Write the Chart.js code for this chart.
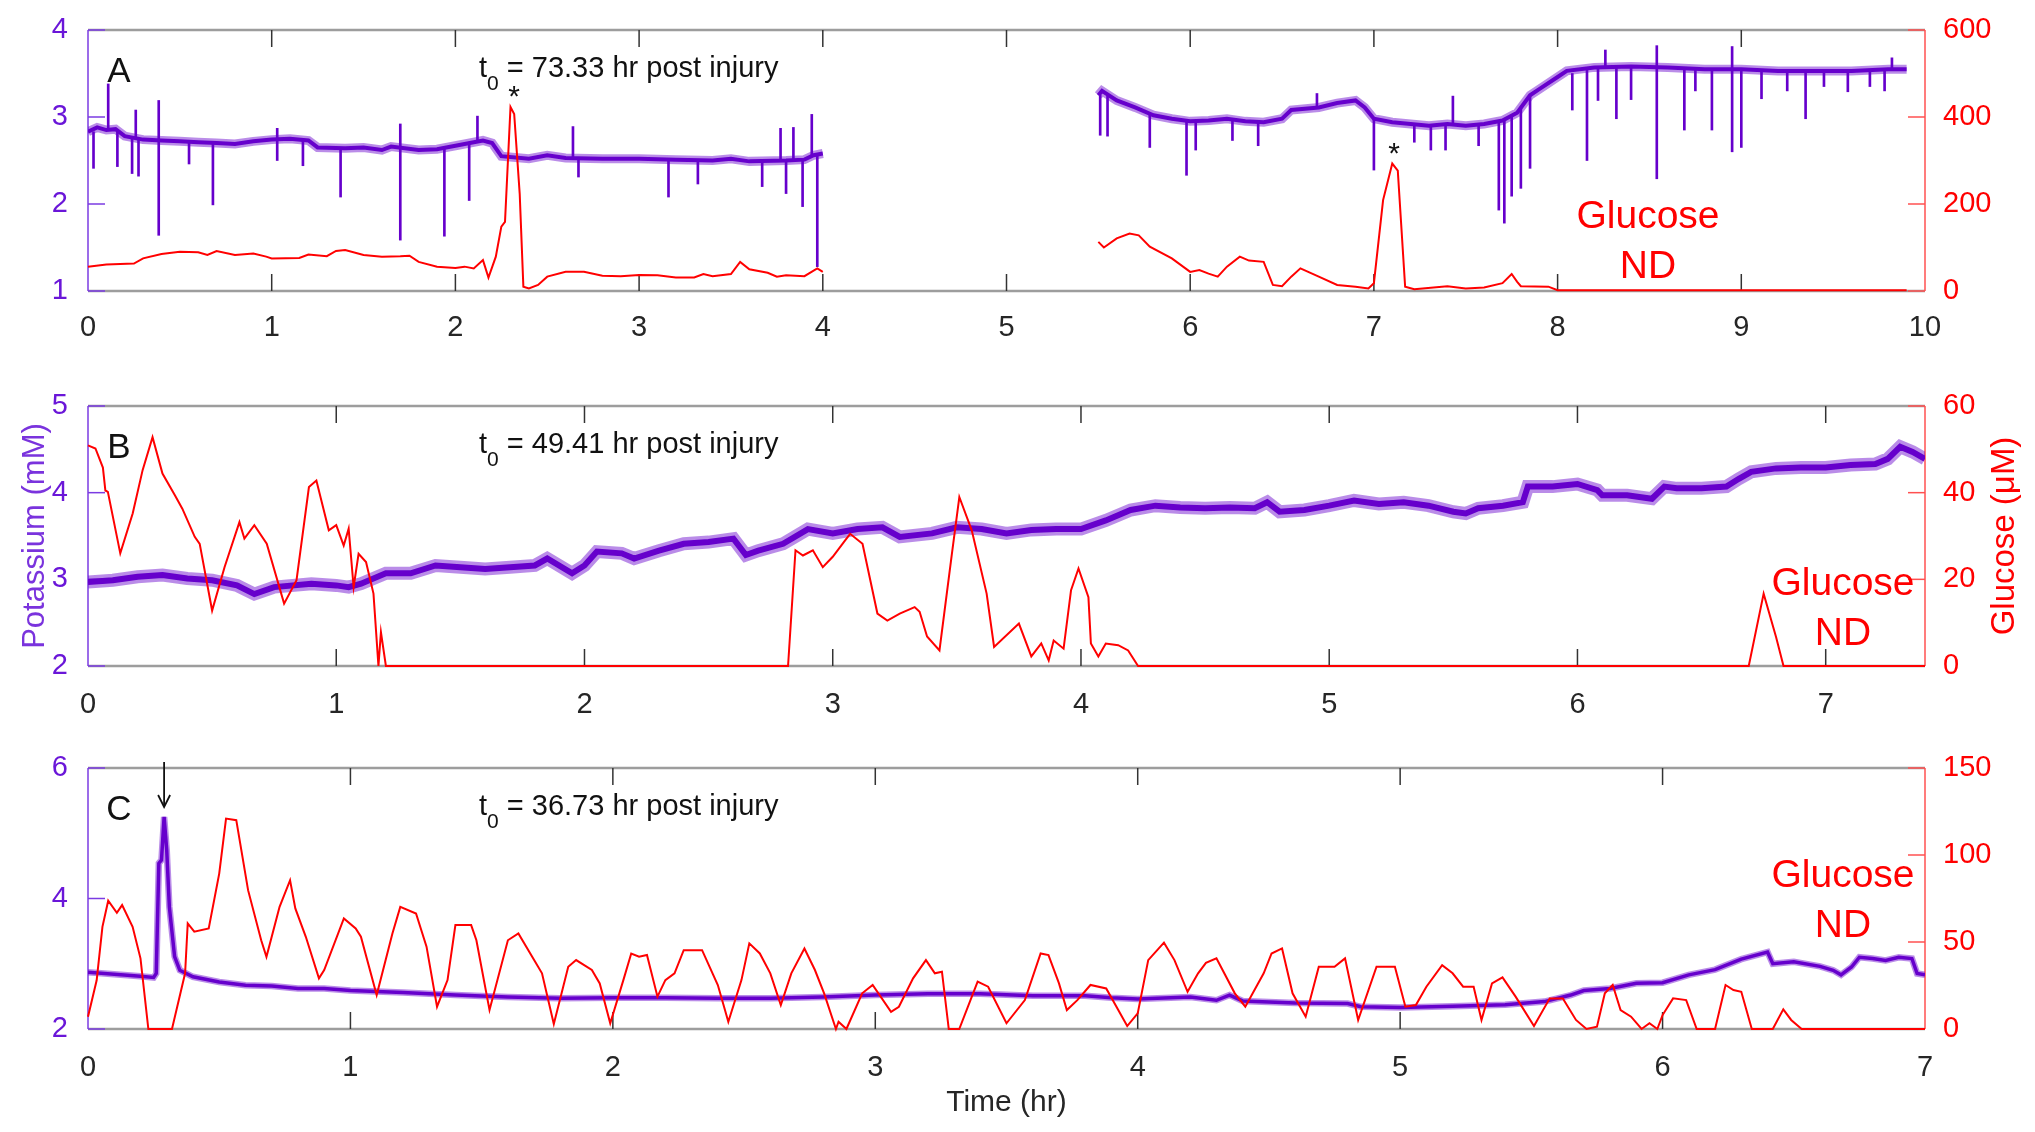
<!DOCTYPE html>
<html>
<head>
<meta charset="utf-8">
<title>Potassium and glucose</title>
<script src="https://cdn.jsdelivr.net/npm/chart.js@4.4.1/dist/chart.umd.min.js"></script>
<style>
  html, body { margin: 0; padding: 0; background: #ffffff; }
  body { position: relative; width: 2035px; height: 1132px; overflow: hidden; }
  canvas { position: absolute; left: 0; }
</style>
</head>
<body>
<canvas id="panelA" width="2035" height="340" style="top:0px;width:2035px;height:340px"></canvas>
<canvas id="panelB" width="2035" height="360" style="top:360px;width:2035px;height:360px"></canvas>
<canvas id="panelC" width="2035" height="412" style="top:720px;width:2035px;height:412px"></canvas>
<script>
const PURPLE = "#6600cc";
const PURPLE_FUZZ = "rgba(102, 0, 204, 0.45)";
const RED = "#ff0000";
const FONT = '"Liberation Sans", Arial, Helvetica, sans-serif';

// ---------- panel A (t0 = 73.33 hr) ----------
const aKTime1 = [0, 0.05, 0.1, 0.15, 0.2, 0.3, 0.4, 0.5, 0.6, 0.7, 0.8, 0.9, 1.0, 1.1, 1.2, 1.25, 1.4, 1.5, 1.6, 1.65, 1.8, 1.9, 2.0, 2.1, 2.15, 2.2, 2.25, 2.4, 2.5, 2.6, 2.8, 3.0, 3.2, 3.4, 3.5, 3.6, 3.8, 3.9, 3.95, 4.0];
const aKVal1 = [2.83, 2.88, 2.85, 2.86, 2.78, 2.74, 2.73, 2.72, 2.71, 2.70, 2.69, 2.72, 2.74, 2.75, 2.73, 2.65, 2.64, 2.65, 2.62, 2.66, 2.62, 2.63, 2.67, 2.71, 2.73, 2.70, 2.55, 2.52, 2.56, 2.53, 2.52, 2.52, 2.51, 2.50, 2.52, 2.49, 2.50, 2.51, 2.56, 2.58];
const aKTime2 = [5.5, 5.52, 5.6, 5.7, 5.8, 5.9, 6.0, 6.1, 6.2, 6.3, 6.4, 6.5, 6.55, 6.7, 6.8, 6.9, 6.95, 7.0, 7.1, 7.2, 7.3, 7.4, 7.5, 7.6, 7.7, 7.78, 7.85, 7.9, 8.0, 8.05, 8.2, 8.4, 8.6, 8.8, 9.0, 9.2, 9.4, 9.6, 9.8, 9.9];
const aKVal2 = [3.25, 3.30, 3.19, 3.11, 3.02, 2.98, 2.95, 2.96, 2.98, 2.95, 2.94, 2.98, 3.08, 3.11, 3.16, 3.19, 3.11, 2.98, 2.94, 2.92, 2.90, 2.92, 2.90, 2.92, 2.96, 3.05, 3.25, 3.32, 3.46, 3.53, 3.57, 3.58, 3.57, 3.55, 3.55, 3.53, 3.53, 3.53, 3.55, 3.55];
// short artefact spikes of the potassium trace: time, low end, high end
const aSpikeTime = [0.03, 0.11, 0.16, 0.24, 0.26, 0.275, 0.385, 0.55, 0.68, 1.03, 1.17, 1.375, 1.70, 1.94, 2.075, 2.12, 2.64, 2.67, 3.16, 3.32, 3.67, 3.77, 3.80, 3.84, 3.89, 3.94, 3.97,
  5.51, 5.55, 5.78, 5.98, 6.03, 6.23, 6.37, 6.69, 7.0, 7.22, 7.31, 7.39, 7.43, 7.57, 7.68, 7.71, 7.75, 7.80, 7.85, 8.08, 8.16, 8.22, 8.26, 8.32, 8.4, 8.54, 8.69, 8.75, 8.84, 8.95, 9.0, 9.11, 9.25, 9.35, 9.45, 9.58, 9.7, 9.78, 9.82];
const aSpikeLow = [2.41, 2.85, 2.43, 2.35, 2.75, 2.32, 1.64, 2.46, 1.99, 2.50, 2.44, 2.08, 1.585, 1.63, 2.04, 2.72, 2.53, 2.31, 2.08, 2.23, 2.20, 2.50, 2.12, 2.50, 1.97, 2.55, 1.28,
  2.79, 2.78, 2.65, 2.33, 2.62, 2.73, 2.67, 3.11, 2.39, 2.71, 2.62, 2.62, 2.92, 2.67, 1.93, 1.78, 2.09, 2.18, 2.41, 3.08, 2.50, 3.19, 3.57, 2.98, 3.20, 2.29, 2.85, 3.30, 2.85, 2.60, 2.65, 3.21, 3.30, 2.98, 3.35, 3.29, 3.35, 3.30, 3.55];
const aSpikeHigh = [2.83, 3.38, 2.85, 2.76, 3.08, 2.74, 3.19, 2.72, 2.70, 2.87, 2.73, 2.64, 2.92, 2.64, 2.70, 3.01, 2.89, 2.53, 2.51, 2.51, 2.50, 2.87, 2.50, 2.88, 2.51, 3.03, 2.56,
  3.25, 3.25, 3.02, 2.96, 2.95, 2.98, 2.94, 3.27, 2.98, 2.92, 2.90, 2.92, 3.24, 2.92, 2.96, 2.96, 3.00, 3.10, 3.25, 3.50, 3.56, 3.57, 3.77, 3.57, 3.58, 3.82, 3.56, 3.56, 3.55, 3.81, 3.55, 3.54, 3.53, 3.53, 3.53, 3.53, 3.54, 3.55, 3.68];
const aGluTime1 = [0, 0.1, 0.25, 0.3, 0.4, 0.5, 0.6, 0.65, 0.7, 0.8, 0.9, 0.97, 1.0, 1.15, 1.2, 1.3, 1.35, 1.4, 1.5, 1.6, 1.7, 1.75, 1.8, 1.9, 2.0, 2.05, 2.1, 2.15, 2.18, 2.22, 2.25, 2.27, 2.3, 2.32, 2.35, 2.37, 2.4, 2.45, 2.5, 2.6, 2.7, 2.8, 2.9, 3.0, 3.1, 3.2, 3.3, 3.35, 3.4, 3.5, 3.55, 3.6, 3.7, 3.75, 3.8, 3.9, 3.97, 4.0];
const aGluVal1 = [56, 61, 63, 75, 85, 90, 89, 83, 92, 83, 86, 79, 75, 76, 84, 80, 92, 94, 83, 79, 80, 81, 67, 56, 53, 56, 52, 71, 31, 79, 148, 159, 423, 407, 224, 10, 6, 14, 33, 44, 44, 35, 34, 37, 36, 31, 31, 39, 34, 39, 67, 50, 42, 33, 36, 34, 52, 44];
const aGluTime2 = [5.5, 5.53, 5.6, 5.67, 5.72, 5.78, 5.9, 6.0, 6.05, 6.1, 6.15, 6.2, 6.27, 6.32, 6.4, 6.45, 6.5, 6.55, 6.6, 6.7, 6.8, 6.9, 6.97, 7.0, 7.05, 7.1, 7.13, 7.17, 7.22, 7.4, 7.5, 7.6, 7.7, 7.75, 7.78, 7.8, 7.95, 8.0, 9.9];
const aGluVal2 = [113, 100, 121, 132, 128, 102, 75, 44, 48, 40, 33, 56, 79, 70, 67, 14, 11, 33, 52, 33, 14, 10, 6, 18, 209, 293, 277, 10, 4, 11, 6, 8, 18, 39, 21, 11, 10, 2, 2];
const aStarTime = [2.32, 7.11];
const aStarGlu = [423, 293];

// ---------- panel B (t0 = 49.41 hr) ----------
const bKTime = [0, 0.1, 0.2, 0.3, 0.4, 0.5, 0.6, 0.67, 0.75, 0.9, 1.0, 1.05, 1.1, 1.2, 1.3, 1.4, 1.5, 1.6, 1.7, 1.8, 1.85, 1.95, 2.0, 2.05, 2.15, 2.2, 2.3, 2.4, 2.5, 2.6, 2.65, 2.7, 2.8, 2.9, 3.0, 3.1, 3.2, 3.27, 3.4, 3.5, 3.6, 3.7, 3.8, 3.9, 4.0, 4.1, 4.2, 4.3, 4.4, 4.5, 4.6, 4.7, 4.75, 4.8, 4.9, 5.0, 5.1, 5.2, 5.3, 5.4, 5.5, 5.55, 5.6, 5.7, 5.78, 5.8, 5.9, 6.0, 6.08, 6.1, 6.2, 6.3, 6.35, 6.4, 6.5, 6.6, 6.65, 6.7, 6.8, 6.9, 7.0, 7.1, 7.2, 7.25, 7.3, 7.35, 7.4];
const bKVal = [2.97, 2.99, 3.03, 3.05, 3.01, 2.99, 2.93, 2.83, 2.91, 2.95, 2.93, 2.91, 2.95, 3.07, 3.07, 3.16, 3.14, 3.12, 3.14, 3.16, 3.24, 3.07, 3.16, 3.32, 3.30, 3.24, 3.33, 3.41, 3.43, 3.47, 3.28, 3.33, 3.41, 3.58, 3.53, 3.58, 3.60, 3.49, 3.53, 3.60, 3.58, 3.53, 3.57, 3.58, 3.58, 3.68, 3.80, 3.85, 3.83, 3.82, 3.83, 3.82, 3.89, 3.78, 3.80, 3.85, 3.91, 3.87, 3.89, 3.85, 3.78, 3.76, 3.82, 3.85, 3.89, 4.07, 4.07, 4.10, 4.03, 3.97, 3.97, 3.93, 4.07, 4.05, 4.05, 4.07, 4.16, 4.24, 4.28, 4.29, 4.29, 4.32, 4.33, 4.39, 4.53, 4.47, 4.39];
const bGluTime = [0, 0.03, 0.06, 0.07, 0.08, 0.13, 0.18, 0.22, 0.26, 0.3, 0.35, 0.38, 0.43, 0.45, 0.5, 0.55, 0.61, 0.63, 0.67, 0.72, 0.79, 0.84, 0.89, 0.92, 0.97, 1.0, 1.03, 1.05, 1.07, 1.09, 1.12, 1.15, 1.17, 1.18, 1.2, 2.82, 2.85, 2.88, 2.92, 2.96, 3.0, 3.05, 3.07, 3.12, 3.18, 3.22, 3.27, 3.33, 3.35, 3.38, 3.43, 3.48, 3.51, 3.56, 3.62, 3.65, 3.75, 3.8, 3.84, 3.87, 3.89, 3.93, 3.96, 3.99, 4.03, 4.04, 4.07, 4.1, 4.15, 4.19, 4.23, 6.69, 6.75, 6.8, 6.83, 7.4];
const bGluVal = [50.9, 50.2, 45.8, 40.5, 40.2, 26, 35.2, 45.2, 52.8, 44.4, 39.4, 36.3, 29.8, 28.2, 12.8, 22.8, 33.2, 29.4, 32.5, 28.2, 14.4, 19.8, 41.3, 42.8, 31.3, 32.5, 27.8, 31.7, 18.2, 25.9, 24, 16.7, 0, 7.8, 0, 0, 26.7, 25.5, 26.7, 22.8, 25.2, 29, 30.5, 28.2, 12.1, 10.5, 12.1, 13.6, 12.5, 6.8, 3.6, 25.9, 39, 31.3, 16.7, 4.4, 9.8, 2.2, 5.2, 1.3, 5.9, 4, 17.5, 22.5, 15.9, 5.2, 2.2, 5.2, 4.8, 3.6, 0, 0, 16.7, 6.7, 0, 0];

// ---------- panel C (t0 = 36.73 hr) ----------
const cKTime = [0, 0.1, 0.2, 0.25, 0.26, 0.27, 0.28, 0.29, 0.3, 0.31, 0.33, 0.35, 0.4, 0.5, 0.6, 0.7, 0.8, 0.9, 1.0, 1.2, 1.4, 1.6, 1.8, 2.0, 2.2, 2.4, 2.6, 2.8, 3.0, 3.2, 3.4, 3.6, 3.8, 3.9, 4.0, 4.2, 4.3, 4.35, 4.4, 4.6, 4.8, 4.85, 5.0, 5.2, 5.4, 5.55, 5.65, 5.7, 5.8, 5.9, 6.0, 6.1, 6.2, 6.3, 6.4, 6.42, 6.5, 6.6, 6.65, 6.68, 6.72, 6.75, 6.8, 6.85, 6.9, 6.95, 6.97, 7.0];
const cKVal = [2.87, 2.84, 2.81, 2.79, 2.85, 4.54, 4.59, 5.25, 4.74, 3.87, 3.11, 2.90, 2.80, 2.72, 2.67, 2.66, 2.62, 2.62, 2.59, 2.56, 2.52, 2.49, 2.47, 2.48, 2.48, 2.47, 2.47, 2.49, 2.52, 2.54, 2.54, 2.51, 2.51, 2.48, 2.46, 2.49, 2.44, 2.52, 2.43, 2.40, 2.39, 2.34, 2.33, 2.35, 2.37, 2.42, 2.52, 2.59, 2.62, 2.70, 2.71, 2.83, 2.91, 3.07, 3.18, 3.00, 3.03, 2.96, 2.90, 2.83, 2.95, 3.10, 3.08, 3.05, 3.10, 3.08, 2.85, 2.83];
const cGluTime = [0, 0.033, 0.055, 0.077, 0.11, 0.13, 0.17, 0.2, 0.23, 0.32, 0.37, 0.38, 0.405, 0.46, 0.5, 0.526, 0.565, 0.61, 0.66, 0.68, 0.73, 0.77, 0.79, 0.83, 0.88, 0.9, 0.975, 1.02, 1.04, 1.1, 1.16, 1.19, 1.25, 1.29, 1.33, 1.37, 1.4, 1.46, 1.48, 1.53, 1.6, 1.64, 1.7, 1.73, 1.775, 1.83, 1.86, 1.92, 1.95, 1.99, 2.04, 2.07, 2.1, 2.13, 2.17, 2.2, 2.235, 2.27, 2.34, 2.4, 2.44, 2.49, 2.52, 2.56, 2.6, 2.64, 2.68, 2.73, 2.77, 2.805, 2.85, 2.86, 2.89, 2.95, 2.99, 3.06, 3.09, 3.144, 3.193, 3.227, 3.254, 3.28, 3.32, 3.39, 3.43, 3.5, 3.57, 3.63, 3.66, 3.7, 3.73, 3.77, 3.82, 3.88, 3.96, 4.0, 4.04, 4.1, 4.14, 4.19, 4.23, 4.26, 4.3, 4.37, 4.41, 4.48, 4.51, 4.55, 4.59, 4.64, 4.69, 4.75, 4.79, 4.84, 4.91, 4.98, 5.02, 5.06, 5.1, 5.16, 5.2, 5.24, 5.28, 5.31, 5.35, 5.39, 5.44, 5.51, 5.57, 5.62, 5.67, 5.71, 5.75, 5.78, 5.81, 5.84, 5.88, 5.92, 5.95, 5.98, 6.0, 6.04, 6.09, 6.13, 6.2, 6.24, 6.27, 6.3, 6.34, 6.42, 6.46, 6.49, 6.53, 7.0];
const cGluVal = [7.1, 28, 58.7, 73.7, 66.8, 71.2, 58.7, 40.6, 0, 0, 32, 60.7, 55.9, 57.8, 89.3, 120.9, 120, 79.8, 51, 41.5, 70.2, 85.5, 69.3, 53, 29.1, 33.9, 63.5, 57.8, 53, 19.5, 54.9, 70.2, 66.4, 47.3, 12.8, 28.1, 59.7, 59.7, 51, 10.9, 51, 54.9, 39.6, 32, 2.9, 35.8, 39.6, 33.9, 26.2, 3.3, 28.1, 43.4, 41.5, 42.5, 18.6, 28.1, 32, 45.3, 45.3, 25.3, 4.2, 28.1, 49.2, 43.4, 32, 13.8, 32, 46.3, 33.9, 20.5, 0, 4.2, 0, 20.5, 25.3, 9.9, 12.8, 29.1, 39.6, 32, 32.9, 0, 0, 27.2, 24.3, 3.3, 16.6, 43.4, 42.5, 26.2, 10.9, 16.6, 25.3, 23.3, 1.7, 9, 39.6, 49.6, 39.6, 21.4, 32, 38, 40.6, 20.5, 12.8, 32, 43.4, 46.3, 20.5, 7.1, 35.8, 35.8, 40.6, 5.2, 35.8, 35.8, 12.8, 13.8, 24.3, 36.7, 32, 24.3, 24.3, 5.2, 26.2, 29.7, 18.6, 1.7, 17.6, 17.6, 5.2, 0, 1.3, 20.5, 25.3, 10.9, 7.1, 0, 3.3, 0, 8, 17.6, 16.6, 0, 0, 25.3, 22.4, 21.4, 0, 0, 11.3, 5.2, 0, 0];
const cArrowTime = 0.29;

Chart.defaults.font.family = FONT;

function pts(xs, ys) {
    return xs.map((x, i) => ({ x: x, y: ys[i] }));
}

function line(ctx, x1, y1, x2, y2) {
    ctx.beginPath();
    ctx.moveTo(x1, y1);
    ctx.lineTo(x2, y2);
    ctx.stroke();
}

function text(ctx, str, x, y, size, color, align, rot) {
    ctx.save();
    ctx.font = size + "px " + FONT;
    ctx.fillStyle = color;
    ctx.textAlign = align || "left";
    ctx.textBaseline = "alphabetic";
    ctx.translate(x, y);
    if (rot) ctx.rotate(rot);
    ctx.fillText(str, 0, 0);
    ctx.restore();
}

// box, inward tick marks and the notes of each panel
function panelPlugin(p) {
    const TICK = 17;
    return {
        id: "panelFrame",
        beforeDatasetsDraw(chart) {
            const { ctx, chartArea: a, scales } = chart;
            ctx.save();
            ctx.strokeStyle = "#9d9d9d";
            ctx.lineWidth = 2.5;
            line(ctx, a.left, a.top, a.right, a.top);
            line(ctx, a.left, a.bottom, a.right, a.bottom);

            ctx.strokeStyle = "#333333";
            ctx.lineWidth = 1.5;
            scales.x.ticks.forEach(t => {
                const px = scales.x.getPixelForValue(t.value);
                if (px < a.left + 2 || px > a.right - 2) return;
                line(ctx, px, a.top, px, a.top + TICK);
                line(ctx, px, a.bottom, px, a.bottom - TICK);
            });

            ctx.strokeStyle = "#7b3be2";
            line(ctx, a.left, a.top, a.left, a.bottom);
            scales.y.ticks.forEach(t => {
                const py = scales.y.getPixelForValue(t.value);
                line(ctx, a.left, py, a.left + TICK, py);
            });

            ctx.strokeStyle = "#ff5050";
            line(ctx, a.right, a.top, a.right, a.bottom);
            scales.yR.ticks.forEach(t => {
                const py = scales.yR.getPixelForValue(t.value);
                line(ctx, a.right, py, a.right - TICK, py);
            });
            ctx.restore();
        },
        afterDraw(chart) {
            const { ctx, chartArea: a, scales } = chart;

            text(ctx, p.letter, a.left + 31, a.top + 52, 35, "#111111", "center");

            // t0 = ... hr post injury
            const tx = a.left + 391;
            const ty = a.top + 47;
            ctx.save();
            ctx.font = "29px " + FONT;
            const tw = ctx.measureText("t").width;
            ctx.font = "21px " + FONT;
            const sw = ctx.measureText("0").width;
            ctx.restore();
            text(ctx, "t", tx, ty, 29, "#111111");
            text(ctx, "0", tx + tw, ty + 13, 21, "#111111");
            text(ctx, " = " + p.t0 + " hr post injury", tx + tw + sw, ty, 29, "#111111");

            text(ctx, "Glucose", p.ndX, a.top + p.ndY, 39, RED, "center");
            text(ctx, "ND", p.ndX, a.top + p.ndY + 50, 39, RED, "center");

            (p.starTime || []).forEach((t, i) => {
                const sx = scales.x.getPixelForValue(t);
                const sy = scales.yR.getPixelForValue(p.starGlu[i]);
                text(ctx, "*", sx, sy - 1, 30, "#111111", "center");
            });

            if (p.arrowTime !== undefined) {
                const ax = scales.x.getPixelForValue(p.arrowTime);
                ctx.save();
                ctx.strokeStyle = "#111111";
                ctx.lineWidth = 1.8;
                line(ctx, ax, a.top - 6, ax, a.top + 38);
                ctx.beginPath();
                ctx.moveTo(ax - 6, a.top + 27);
                ctx.lineTo(ax, a.top + 39);
                ctx.lineTo(ax + 6, a.top + 27);
                ctx.stroke();
                ctx.restore();
            }

            if (p.yTitles) {
                const cy = (a.top + a.bottom) / 2;
                text(ctx, "Potassium (mM)", 44, cy, 31, "#7a33dd", "center", -Math.PI / 2);
                text(ctx, "Glucose (\u03bcM)", 2014, cy, 33, RED, "center", -Math.PI / 2);
            }
        }
    };
}

function drawPanel(canvasId, p) {
    const datasets = [];
    p.glucose.forEach(g => {
        datasets.push({
            data: pts(g[0], g[1]),
            yAxisID: "yR",
            borderColor: RED,
            borderWidth: 2,
            pointRadius: 0,
            tension: 0,
            clip: false
        });
    });
    // solid core of the potassium trace, then a paler band for its noise
    p.potassium.forEach(k => {
        datasets.push({
            data: pts(k[0], k[1]),
            yAxisID: "y",
            borderColor: PURPLE,
            borderWidth: p.band[0],
            pointRadius: 0,
            tension: 0
        });
    });
    p.potassium.forEach(k => {
        datasets.push({
            data: pts(k[0], k[1]),
            yAxisID: "y",
            borderColor: PURPLE_FUZZ,
            borderWidth: p.band[1],
            pointRadius: 0,
            tension: 0
        });
    });
    if (p.spikes) {
        datasets.push({
            type: "bar",
            data: p.spikes[0].map((t, i) => ({ x: t, y: [p.spikes[1][i], p.spikes[2][i]] })),
            yAxisID: "y",
            backgroundColor: PURPLE,
            borderWidth: 0,
            barThickness: 2,
            grouped: false
        });
    }

    const tickFont = { size: 29, family: FONT };

    new Chart(document.getElementById(canvasId), {
        type: "line",
        data: { datasets: datasets },
        options: {
            responsive: false,
            animation: false,
            events: [],
            layout: { padding: { top: p.top, left: 0, right: 0, bottom: 0 } },
            plugins: { legend: { display: false }, tooltip: { enabled: false } },
            scales: {
                x: {
                    type: "linear",
                    min: 0,
                    max: p.xMax,
                    offset: false,
                    grid: { display: false },
                    border: { display: false },
                    ticks: { stepSize: 1, includeBounds: false, autoSkip: false, maxRotation: 0, color: "#262626", font: tickFont, padding: p.xPad },
                    title: p.xTitle ? { display: true, text: p.xTitle, color: "#262626", font: { size: 30, family: FONT }, padding: { top: 0, bottom: 11 } } : { display: false },
                    afterFit: s => { s.height = p.xHeight; }
                },
                y: {
                    position: "left",
                    min: p.kMin,
                    max: p.kMax,
                    grid: { display: false },
                    border: { display: false },
                    ticks: { stepSize: p.kStep, color: "#6a16d8", font: tickFont, padding: 12 },
                    afterFit: s => { s.width = 88; }
                },
                yR: {
                    position: "right",
                    min: 0,
                    max: p.gMax,
                    grid: { display: false },
                    border: { display: false },
                    ticks: { stepSize: p.gStep, color: RED, font: tickFont, padding: 10 },
                    afterFit: s => { s.width = 110; }
                }
            }
        },
        plugins: [panelPlugin(p)]
    });
}

drawPanel("panelA", {
    letter: "A", t0: "73.33", top: 30, xHeight: 49, xPad: 12, xMax: 10,
    kMin: 1, kMax: 4, kStep: 1, gMax: 600, gStep: 200, band: [4, 9],
    potassium: [[aKTime1, aKVal1], [aKTime2, aKVal2]],
    glucose: [[aGluTime1, aGluVal1], [aGluTime2, aGluVal2]],
    spikes: [aSpikeTime, aSpikeLow, aSpikeHigh],
    starTime: aStarTime, starGlu: aStarGlu,
    ndX: 1648, ndY: 198
});

drawPanel("panelB", {
    letter: "B", t0: "49.41", top: 46, xHeight: 54, xPad: 14, xMax: 7.4,
    kMin: 2, kMax: 5, kStep: 1, gMax: 60, gStep: 20, band: [6, 13],
    potassium: [[bKTime, bKVal]],
    glucose: [[bGluTime, bGluVal]],
    ndX: 1843, ndY: 189,
    yTitles: true
});

drawPanel("panelC", {
    letter: "C", t0: "36.73", top: 48, xHeight: 103, xPad: 14, xMax: 7,
    kMin: 2, kMax: 6, kStep: 2, gMax: 150, gStep: 50, band: [3.5, 6.5],
    potassium: [[cKTime, cKVal]],
    glucose: [[cGluTime, cGluVal]],
    arrowTime: cArrowTime,
    ndX: 1843, ndY: 119,
    xTitle: "Time (hr)"
});
</script>
</body>
</html>
